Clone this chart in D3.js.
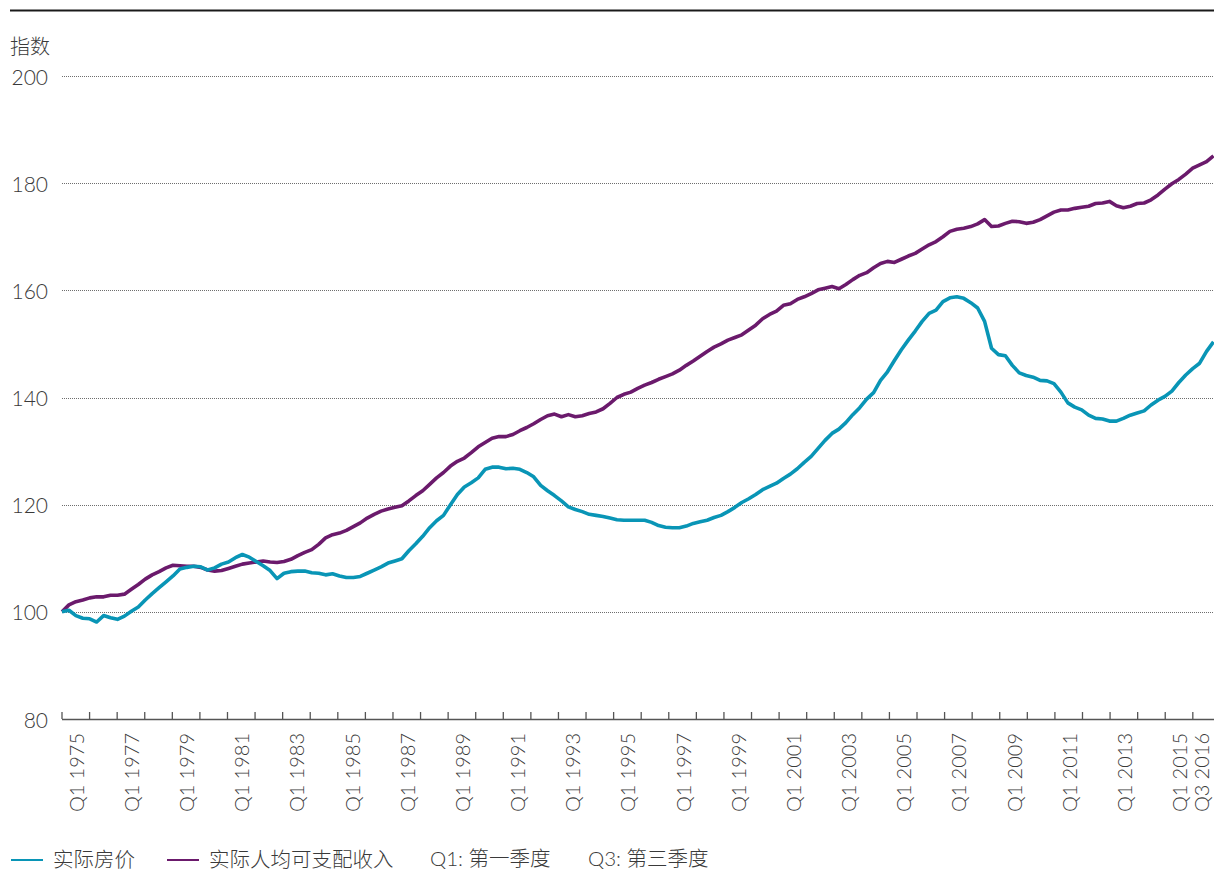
<!DOCTYPE html>
<html>
<head>
<meta charset="utf-8">
<script src="https://cdn.jsdelivr.net/npm/d3@7"></script>
<style>
  html, body { margin: 0; padding: 0; background: #fff; }
  svg text { font-family: "Lato", "Noto Sans CJK SC", sans-serif; font-weight: 300; fill: #3a3a3a; }
</style>
</head>
<body>
<svg id="chart" width="1214" height="873"></svg>
<script>
// ---------- data ----------
const startYear = 1975;
const endYear = 2016.75; // end of Q3 2016

const housePrice = [
  100.0,100.3,99.3,98.8,98.7,98.1,99.3,98.9,98.6,99.2,
  100.1,100.9,102.2,103.4,104.5,105.6,106.7,108.0,108.3,108.5,
  108.4,107.8,108.2,108.9,109.3,110.1,110.7,110.2,109.4,108.6,
  107.7,106.2,107.2,107.5,107.6,107.6,107.3,107.2,106.9,107.1,
  106.7,106.4,106.4,106.6,107.2,107.8,108.4,109.1,109.5,109.9,
  111.4,112.7,114.1,115.7,117.0,118.0,120.0,121.9,123.3,124.1,
  125.0,126.6,127.0,127.0,126.7,126.8,126.6,126.0,125.2,123.6,
  122.6,121.7,120.7,119.6,119.1,118.7,118.2,118.0,117.8,117.5,
  117.2,117.1,117.1,117.1,117.1,116.7,116.1,115.8,115.7,115.7,
  116.0,116.5,116.8,117.1,117.6,118.0,118.7,119.5,120.4,121.1,
  121.9,122.8,123.4,124.0,124.9,125.7,126.7,127.9,129.0,130.5,
  132.0,133.3,134.1,135.3,136.8,138.1,139.7,140.9,143.2,144.8,
  146.9,148.9,150.7,152.4,154.2,155.7,156.3,157.9,158.6,158.8,
  158.5,157.7,156.7,154.2,149.2,148.0,147.8,146.0,144.6,144.1,
  143.8,143.2,143.1,142.6,141.0,139.0,138.2,137.7,136.7,136.1,
  136.0,135.6,135.6,136.1,136.7,137.1,137.5,138.6,139.5,140.2,
  141.2,142.8,144.2,145.4,146.4,148.6,150.4
];

const disposableIncome = [
  100.0,101.3,101.9,102.2,102.6,102.8,102.8,103.1,103.1,103.3,
  104.2,105.1,106.1,106.9,107.5,108.2,108.7,108.6,108.5,108.5,
  108.3,107.8,107.6,107.7,108.1,108.5,108.9,109.1,109.3,109.5,
  109.3,109.2,109.4,109.8,110.5,111.1,111.6,112.6,113.8,114.4,
  114.7,115.2,115.9,116.6,117.5,118.2,118.8,119.2,119.5,119.8,
  120.7,121.7,122.6,123.8,125.0,126.0,127.2,128.1,128.7,129.7,
  130.8,131.6,132.4,132.7,132.7,133.1,133.8,134.4,135.1,135.9,
  136.6,136.9,136.4,136.8,136.4,136.6,137.0,137.3,137.9,138.9,
  140.0,140.6,141.0,141.7,142.3,142.8,143.4,143.9,144.4,145.1,
  146.0,146.8,147.7,148.6,149.4,150.0,150.7,151.2,151.7,152.6,
  153.5,154.7,155.5,156.1,157.2,157.5,158.3,158.8,159.4,160.1,
  160.4,160.7,160.3,161.1,162.0,162.8,163.3,164.2,165.0,165.4,
  165.2,165.8,166.4,166.9,167.7,168.5,169.1,170.0,171.0,171.4,
  171.6,171.9,172.4,173.2,171.9,172.0,172.5,172.9,172.8,172.5,
  172.7,173.2,173.9,174.6,175.0,175.0,175.3,175.5,175.7,176.2,
  176.3,176.6,175.8,175.4,175.7,176.2,176.3,176.9,177.8,178.9,
  179.9,180.7,181.7,182.8,183.4,184.0,185.1
];

const yTicks = [80, 100, 120, 140, 160, 180, 200];
const xTickLabels = [
  ["Q1", "1975", 1975.5], ["Q1", "1977", 1977.5], ["Q1", "1979", 1979.5],
  ["Q1", "1981", 1981.5], ["Q1", "1983", 1983.5], ["Q1", "1985", 1985.5],
  ["Q1", "1987", 1987.5], ["Q1", "1989", 1989.5], ["Q1", "1991", 1991.5],
  ["Q1", "1993", 1993.5], ["Q1", "1995", 1995.5], ["Q1", "1997", 1997.5],
  ["Q1", "1999", 1999.5], ["Q1", "2001", 2001.5], ["Q1", "2003", 2003.5],
  ["Q1", "2005", 2005.5], ["Q1", "2007", 2007.5], ["Q1", "2009", 2009.5],
  ["Q1", "2011", 2011.5], ["Q1", "2013", 2013.5], ["Q1", "2015", 2015.5],
  ["Q3", "2016", 2016.3]
];
const yearTicks = d3.range(1975, 2017);
const yAxisTitle = "指数";
const seriesNames = ["实际房价", "实际人均可支配收入"];
const notes = ["Q1: 第一季度", "Q3: 第三季度"];
const colors = ["#0995b6", "#6b1a6c"];

// ---------- layout ----------
const svg = d3.select("#chart");
const mLeft = 62, mRight = 1213.5, mTop = 76, mBottom = 719;

const x = d3.scaleLinear().domain([startYear, endYear]).range([mLeft, mRight]);
const xIdx = d3.scaleLinear().domain([0, housePrice.length - 1]).range([x(startYear), x(endYear)]);
const y = d3.scaleLinear().domain([80, 200]).range([mBottom, mTop]);

// top rule
svg.append("line").attr("x1", 10).attr("x2", 1214).attr("y1", 10.5).attr("y2", 10.5)
  .attr("stroke", "#1a1a1a").attr("stroke-width", 2);

// axis title
svg.append("text").attr("x", 10).attr("y", 45).attr("dominant-baseline", "central")
  .style("font-family", "'Noto Sans CJK SC', sans-serif").style("font-size", "20px")
  .text(yAxisTitle);

// gridlines
svg.append("g").selectAll("line").data(yTicks.filter(d => d > 80)).join("line")
  .attr("x1", mLeft).attr("x2", 1214)
  .attr("y1", d => Math.round(y(d)) + 0.5).attr("y2", d => Math.round(y(d)) + 0.5)
  .attr("stroke", "#6e6e6e").attr("stroke-width", 1).attr("stroke-dasharray", "1,1");

// y labels
svg.append("g").selectAll("text").data(yTicks).join("text")
  .attr("x", 48).attr("y", d => y(d)).attr("text-anchor", "end")
  .attr("dominant-baseline", "central").style("font-size", "21px")
  .text(d => d);

// x axis line and ticks
svg.append("line").attr("x1", mLeft).attr("x2", 1214).attr("y1", mBottom + 0.5).attr("y2", mBottom + 0.5)
  .attr("stroke", "#555").attr("stroke-width", 1.5);
svg.append("g").selectAll("line").data(yearTicks).join("line")
  .attr("x1", d => x(d)).attr("x2", d => x(d))
  .attr("y1", mBottom).attr("y2", mBottom - 7)
  .attr("stroke", "#555").attr("stroke-width", 1.3);

// x labels (rotated)
const lab = svg.append("g").selectAll("g").data(xTickLabels).join("g")
  .attr("transform", d => `translate(${x(d[2])},0) rotate(-90)`);
lab.append("text").attr("x", -812).attr("y", 0).attr("text-anchor", "start")
  .attr("dominant-baseline", "central").style("font-size", "20px").text(d => d[0]);
lab.append("text").attr("x", -733).attr("y", 0).attr("text-anchor", "end")
  .attr("dominant-baseline", "central").style("font-size", "20px").text(d => d[1]);

// lines
const line = d3.line().x((d, i) => xIdx(i)).y(d => y(d));
[disposableIncome, housePrice].forEach((s, k) => {
  svg.append("path").datum(s).attr("d", line).attr("fill", "none")
    .attr("stroke", colors[1 - k]).attr("stroke-width", 3.6)
    .attr("stroke-linejoin", "round").attr("stroke-linecap", "butt");
});

// legend
const legY = 858;
const leg = [
  { sx: 11, tx: 53, color: colors[0], text: seriesNames[0] },
  { sx: 167, tx: 209, color: colors[1], text: seriesNames[1] }
];
leg.forEach(l => {
  svg.append("line").attr("x1", l.sx).attr("x2", l.sx + 32).attr("y1", legY + 2).attr("y2", legY + 2)
    .attr("stroke", l.color).attr("stroke-width", 2);
  svg.append("text").attr("x", l.tx).attr("y", legY).attr("dominant-baseline", "central")
    .style("font-family", "'Noto Sans CJK SC', sans-serif").style("font-size", "20.5px").text(l.text);
});
[[430, notes[0]], [588, notes[1]]].forEach(([tx, t]) => {
  svg.append("text").attr("x", tx).attr("y", legY).attr("dominant-baseline", "central")
    .style("font-family", "Lato, 'Noto Sans CJK SC', sans-serif").style("font-size", "20.5px").text(t);
});
</script>
</body>
</html>
